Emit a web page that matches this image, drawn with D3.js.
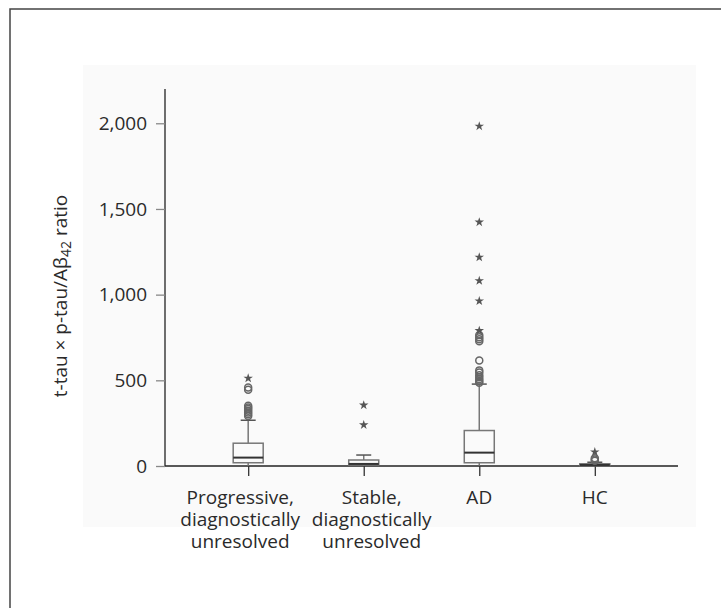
<!DOCTYPE html>
<html>
<head>
<meta charset="utf-8">
<script src="https://cdnjs.cloudflare.com/ajax/libs/d3/7.8.5/d3.min.js"></script>
<style>
    body { margin: 0; background: #fff; }
    text { font-family: "Open Sans", sans-serif; fill: #2a2a2a; }
</style>
</head>
<body>
<div id="chartArea"></div>
<script>
var categories = ['prog', 'stable', 'AD', 'HC'];
var catLabels = [
    ['Progressive,', 'diagnostically', 'unresolved'],
    ['Stable,', 'diagnostically', 'unresolved'],
    ['AD'],
    ['HC']
];

// box stats
var whiskerLow  = [2, 0, 3, 0];
var q1          = [19, 6, 19, 2];
var median      = [49, 12, 78, 6];
var q3          = [133, 35, 207, 13];
var whiskerHigh = [267, 64, 478, 22];

// outliers (circles) and extremes (stars)
var outliers = [
    [292, 302, 312, 322, 332, 342, 352, 445, 458],
    [],
    [486, 496, 506, 518, 530, 545, 558, 615, 728, 740, 752, 765],
    [30, 38, 45]
];
var extremes = [
    [512],
    [240, 355],
    [790, 963, 1081, 1218, 1423, 1983],
    [82]
];

var yTicks = [0, 500, 1000, 1500, 2000];

var W = 721, H = 608;

var svg = d3.select('#chartArea').append('svg')
    .attr('width', W)
    .attr('height', H);

// frame (top + left line)
svg.append('path')
    .attr('d', 'M10,' + H + 'V9H' + W)
    .attr('fill', 'none')
    .attr('stroke', '#444')
    .attr('stroke-width', 1.5);

// light background panel
svg.append('rect')
    .attr('x', 83).attr('y', 65)
    .attr('width', 696 - 83).attr('height', 527 - 65)
    .attr('fill', '#fafafa');

var xScale = d3.scalePoint()
    .domain(categories)
    .range([165, 678])
    .padding(0.72);

var yScale = d3.scaleLinear()
    .domain([0, 2200])
    .range([466, 89]);

// y axis
var yAxis = svg.append('g')
    .attr('transform', 'translate(165,0)')
    .call(d3.axisLeft(yScale)
        .tickValues(yTicks)
        .tickSize(9)
        .tickPadding(9)
        .tickFormat(d3.format(',')));
yAxis.select('.domain').attr('stroke', '#222').attr('stroke-width', 1.3)
    .attr('d', 'M0,' + yScale(2200) + 'V' + yScale(0));
yAxis.selectAll('.tick line').attr('stroke', '#888').attr('stroke-width', 1.3);
yAxis.selectAll('.tick text').style('font-size', '19px').attr('fill', '#2a2a2a');

// x axis
var xAxis = svg.append('g')
    .attr('transform', 'translate(0,' + yScale(0) + ')')
    .call(d3.axisBottom(xScale).tickSize(10).tickFormat(''));
xAxis.select('.domain').attr('stroke', '#222').attr('stroke-width', 1.3)
    .attr('d', 'M165,0H678');
xAxis.selectAll('.tick line').attr('stroke', '#333').attr('stroke-width', 1.3);

// category labels (two-line labels sit slightly apart from their ticks)
var labelShift = [-8, 8, 0, 0];
svg.selectAll('text.cat')
    .data(categories)
    .enter()
    .append('text')
    .attr('class', 'cat')
    .attr('text-anchor', 'middle')
    .style('font-size', '19px')
    .attr('transform', function (d, i) {
        return 'translate(' + (xScale(d) + labelShift[i]) + ',504)';
    })
    .selectAll('tspan')
    .data(function (d, i) { return catLabels[i]; })
    .enter()
    .append('tspan')
    .attr('x', 0)
    .attr('y', function (d, i) { return i * 22; })
    .text(function (d) { return d; });

// y label
var ylab = svg.append('text')
    .attr('transform', 'translate(67,296) rotate(-90)')
    .attr('text-anchor', 'middle')
    .style('font-size', '19px');
ylab.append('tspan').text('t-tau \u00d7 p-tau/A\u03b2');
ylab.append('tspan').text('42').style('font-size', '14px').attr('dy', 4);
ylab.append('tspan').text(' ratio').attr('dy', -4);

// boxes
var boxW = 30, capW = 15;
var g = svg.selectAll('g.box')
    .data(categories)
    .enter()
    .append('g')
    .attr('class', 'box')
    .attr('transform', function (d) { return 'translate(' + xScale(d) + ',0)'; });

g.append('line')
    .attr('x1', 0).attr('x2', 0)
    .attr('y1', function (d, i) { return yScale(whiskerHigh[i]); })
    .attr('y2', function (d, i) { return yScale(q3[i]); })
    .attr('stroke', '#777').attr('stroke-width', 1.5);
g.append('line')
    .attr('x1', 0).attr('x2', 0)
    .attr('y1', function (d, i) { return yScale(q1[i]); })
    .attr('y2', function (d, i) { return yScale(whiskerLow[i]); })
    .attr('stroke', '#777').attr('stroke-width', 1.5);
g.append('line')
    .attr('x1', -capW / 2).attr('x2', capW / 2)
    .attr('y1', function (d, i) { return yScale(whiskerHigh[i]); })
    .attr('y2', function (d, i) { return yScale(whiskerHigh[i]); })
    .attr('stroke', '#555').attr('stroke-width', 1.5);
g.append('rect')
    .attr('x', -boxW / 2)
    .attr('width', boxW)
    .attr('y', function (d, i) { return yScale(q3[i]); })
    .attr('height', function (d, i) { return yScale(q1[i]) - yScale(q3[i]); })
    .attr('fill', 'none')
    .attr('stroke', '#777').attr('stroke-width', 1.5);
g.append('line')
    .attr('x1', -boxW / 2).attr('x2', boxW / 2)
    .attr('y1', function (d, i) { return yScale(median[i]); })
    .attr('y2', function (d, i) { return yScale(median[i]); })
    .attr('stroke', '#333').attr('stroke-width', 2);

// outlier circles
g.selectAll('circle')
    .data(function (d, i) { return outliers[i]; })
    .enter()
    .append('circle')
    .attr('cx', 0)
    .attr('cy', function (d) { return yScale(d); })
    .attr('r', 3.5)
    .attr('fill', 'none')
    .attr('stroke', '#666')
    .attr('stroke-width', 1.5);

// extreme stars
var star = d3.symbol().type(d3.symbolStar).size(28);
g.selectAll('path.star')
    .data(function (d, i) { return extremes[i]; })
    .enter()
    .append('path')
    .attr('class', 'star')
    .attr('d', star)
    .attr('transform', function (d) { return 'translate(0,' + yScale(d) + ')'; })
    .attr('fill', '#555');
</script>
</body>
</html>
